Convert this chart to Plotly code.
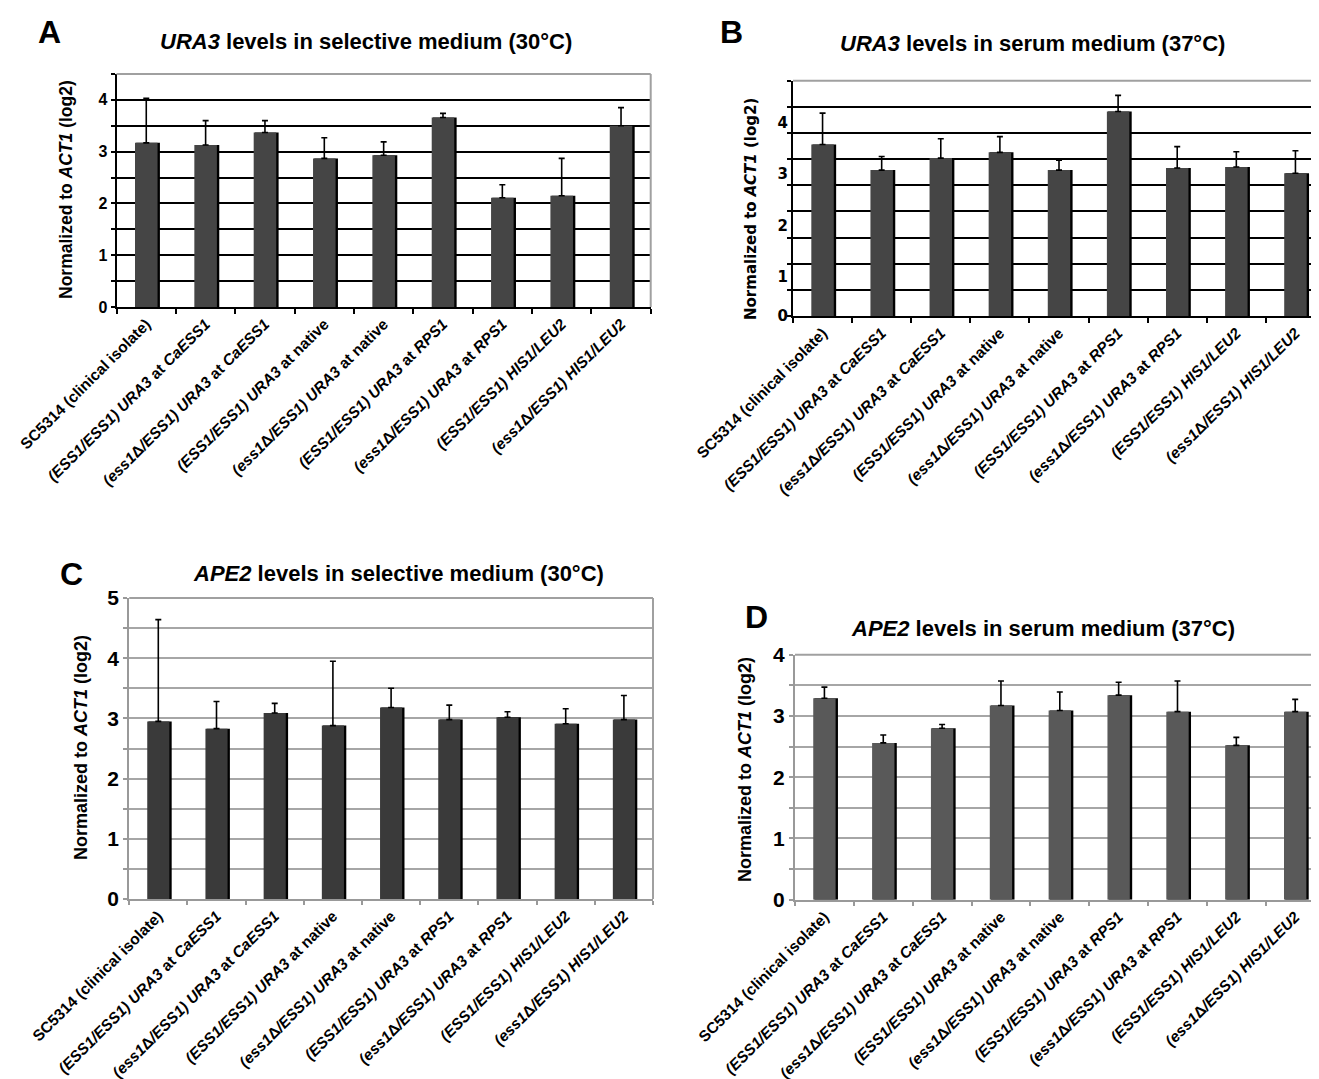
import plotly.graph_objects as go

W, H = 1319, 1079

categories = ["SC5314", "ESS1 CaESS1", "ess1 CaESS1", "ESS1 native", "ess1 native",
              "ESS1 RPS1", "ess1 RPS1", "ESS1 HIS1/LEU2", "ess1 HIS1/LEU2"]
tick_labels = [
    "SC5314 (clinical isolate)",
    "<i>(ESS1/ESS1)</i> <i>URA3</i> at <i>CaESS1</i>",
    "<i>(ess1</i>Δ<i>/ESS1)</i> <i>URA3</i> at <i>CaESS1</i>",
    "<i>(ESS1/ESS1)</i> <i>URA3</i> at native",
    "<i>(ess1</i>Δ<i>/ESS1)</i> <i>URA3</i> at native",
    "<i>(ESS1/ESS1)</i> <i>URA3</i> at <i>RPS1</i>",
    "<i>(ess1</i>Δ<i>/ESS1)</i> <i>URA3</i> at <i>RPS1</i>",
    "<i>(ESS1/ESS1)</i> <i>HIS1/LEU2</i>",
    "<i>(ess1</i>Δ<i>/ESS1)</i> <i>HIS1/LEU2</i>",
]

# Panel A: URA3, selective medium (30C)
ura3_sel = [3.17, 3.13, 3.37, 2.87, 2.93, 3.66, 2.11, 2.15, 3.50]
ura3_sel_err = [0.86, 0.47, 0.23, 0.40, 0.26, 0.08, 0.25, 0.72, 0.35]
# Panel B: URA3, serum medium (37C)
ura3_ser = [3.28, 2.79, 3.02, 3.13, 2.79, 3.91, 2.83, 2.85, 2.73]
ura3_ser_err = [0.60, 0.26, 0.37, 0.30, 0.19, 0.31, 0.41, 0.29, 0.43]
ura3_ser_tickvals = [0, 0.75, 1.73, 2.72, 3.70]
ura3_ser_ticktext = ["0", "1", "2", "3", "4"]
# Panel C: APE2, selective medium (30C)
ape2_sel = [2.95, 2.83, 3.09, 2.88, 3.18, 2.98, 3.02, 2.91, 2.98]
ape2_sel_err = [1.69, 0.45, 0.16, 1.07, 0.32, 0.24, 0.09, 0.25, 0.40]
# Panel D: APE2, serum medium (37C)
ape2_ser = [3.29, 2.56, 2.80, 3.17, 3.09, 3.34, 3.07, 2.52, 3.07]
ape2_ser_err = [0.18, 0.13, 0.06, 0.40, 0.30, 0.21, 0.50, 0.13, 0.20]

NARROW = "Liberation Sans Narrow, Liberation Sans, Arial, sans-serif"
ARIAL = "Liberation Sans, Arial, sans-serif"
DEJAVU = "DejaVu Sans, Verdana, sans-serif"


def px2paper(x0, x1, ytop, ybot):
    return [x0 / W, x1 / W], [1 - ybot / H, 1 - ytop / H]


panels = [
    dict(ax="", vals=ura3_sel, err=ura3_sel_err, color="#454545",
         dom=px2paper(108.6, 642.7, 66, 299), rng=[0, 4.5], grid="black", axis="black",
         tfs=16),
    dict(ax="2", vals=ura3_ser, err=ura3_ser_err, color="#454545",
         dom=px2paper(785, 1317, 72.7, 308), rng=[0, 4.5], grid="black", axis="black",
         tfs=15),
    dict(ax="3", vals=ape2_sel, err=ape2_sel_err, color="#3a3a3a",
         dom=px2paper(121.2, 645, 590, 891), rng=[0, 5], grid="#a6a6a6", axis="#999999",
         tfs=21),
    dict(ax="4", vals=ape2_ser, err=ape2_ser_err, color="#595959",
         dom=px2paper(787, 1316.6, 646.7, 891.7), rng=[0, 4], grid="#a6a6a6", axis="#999999",
         tfs=21),
]

fig = go.Figure()
layout = dict(width=W, height=H, margin=dict(l=0, r=0, t=0, b=0, autoexpand=False),
              template="none",
              paper_bgcolor="white", plot_bgcolor="white",
              barmode="overlay", showlegend=False, shapes=[], annotations=[])

for i, p in enumerate(panels):
    xa, ya = "x" + p["ax"], "y" + p["ax"]
    fig.add_trace(go.Bar(x=categories, y=p["vals"], xaxis=xa, yaxis=ya,
                         marker=dict(color="black", line=dict(width=0)),
                         width=0.40, offset=-0.17, hoverinfo="skip"))
    fig.add_trace(go.Bar(x=categories, y=p["vals"], xaxis=xa, yaxis=ya,
                         marker=dict(color=p["color"], line=dict(width=0)),
                         width=0.38, offset=-0.19,
                         error_y=dict(type="data", symmetric=False, array=p["err"],
                                      arrayminus=[0] * len(p["err"]),
                                      color="black", thickness=1.6, width=3)))
    xkey = "xaxis" + p["ax"]
    ykey = "yaxis" + p["ax"]
    layout[xkey] = dict(domain=p["dom"][0], anchor=ya, type="category", automargin=False,
                        tickmode="array", tickvals=categories, ticktext=tick_labels,
                        tickangle=-45, tickson="boundaries", ticks="outside",
                        ticklen=5 if i < 2 else 4, tickwidth=1.5,
                        tickcolor=p["axis"], showline=True, linecolor=p["axis"],
                        linewidth=2, showgrid=False, zeroline=False,
                        tickfont=dict(family=ARIAL, size=15.5, color="black", weight="bold"),
                        range=[-0.5, 8.5])
    ydict = dict(domain=p["dom"][1], anchor=xa, range=p["rng"], showline=True,
                 automargin=False,
                 linecolor=p["axis"], linewidth=2, zeroline=False,
                 ticks="outside", ticklen=4, tickcolor=p["axis"], tickwidth=1.5)
    if i == 1:
        ydict.update(tickmode="array", tickvals=ura3_ser_tickvals,
                     ticktext=ura3_ser_ticktext, showgrid=False, ticks="",
                     tickfont=dict(family=DEJAVU, size=p["tfs"], color="black", weight="bold"),
                     minor=dict(dtick=0.5, tick0=0, showgrid=True, gridcolor="black",
                                gridwidth=2, ticks="outside", ticklen=4,
                                tickcolor="black", tickwidth=1.5))
    else:
        ydict.update(tickmode="linear", dtick=1, tick0=0, showgrid=True,
                     gridcolor=p["grid"], gridwidth=2,
                     tickfont=dict(family=NARROW, size=p["tfs"], color="black", weight="bold"),
                     minor=dict(dtick=0.5, tick0=0, showgrid=True, gridcolor=p["grid"],
                                gridwidth=2, ticks="outside", ticklen=4,
                                tickcolor=p["axis"], tickwidth=1.5))
    layout[ykey] = ydict
    xref_d = xa + " domain"
    yref_d = ya + " domain"
    layout["shapes"].append(dict(type="line", xref=xref_d, yref=yref_d, x0=0, x1=1, y0=1, y1=1,
                                 line=dict(color="#a0a0a0", width=2)))
    layout["shapes"].append(dict(type="line", xref=xref_d, yref=yref_d, x0=1, x1=1, y0=0, y1=1,
                                 line=dict(color="#a0a0a0", width=2)))


def ann(text, x, y, size, family, angle=0):
    layout["annotations"].append(dict(
        text=text, x=x / W, y=1 - y / H, xref="paper", yref="paper",
        xanchor="center", yanchor="middle", showarrow=False, textangle=angle,
        font=dict(family=family, size=size, color="black", weight="bold")))


# panel letters
ann("A", 41, 24, 32, ARIAL)
ann("B", 723, 24, 32, ARIAL)
ann("C", 63, 566, 32, ARIAL)
ann("D", 748, 609, 32, ARIAL)
# titles
ann("<i>URA3</i> levels in selective medium (30°C)", 358, 34, 22, NARROW)
ann("<i>URA3</i> levels in serum medium (37°C)", 1024, 35, 22, NARROW)
ann("<i>APE2</i> levels in selective medium (30°C)", 390, 565, 22, NARROW)
ann("<i>APE2</i> levels in serum medium (37°C)", 1035, 620, 22, NARROW)
# y axis titles
ann("Normalized to <i>ACT1</i> (log2)", 58, 182, 17.5, ARIAL, -90)
ann("Normalized to <i>ACT1</i> (log2)", 743, 201, 15, DEJAVU, -90)
ann("Normalized to <i>ACT1</i> (log2)", 73, 740, 18, ARIAL, -90)
ann("Normalized to <i>ACT1</i> (log2)", 737, 762, 18, ARIAL, -90)

fig.update_layout(**layout)
fig.write_html("out.html")
